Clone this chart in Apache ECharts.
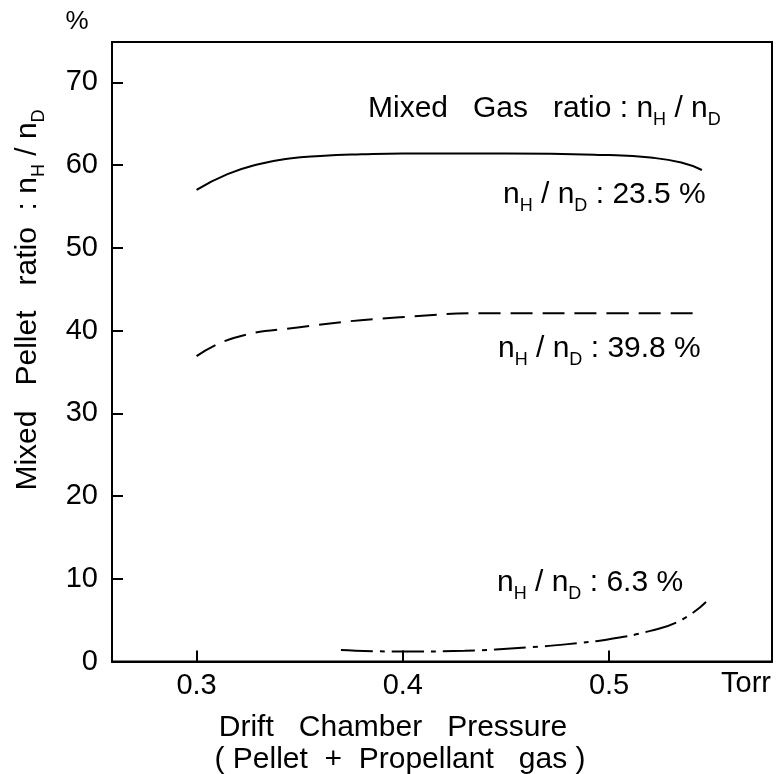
<!DOCTYPE html>
<html>
<head>
<meta charset="utf-8">
<script src="https://cdn.jsdelivr.net/npm/echarts@6/dist/echarts.min.js"></script>
<style>
	html,body{margin:0;padding:0;background:#fff;}
	#main{width:777px;height:774px;}
</style>
</head>
<body>
<div id="main"></div>
<script>
	// 刻度
	var xTicks = [0.3, 0.4, 0.5];
	var yTicks = [0, 10, 20, 30, 40, 50, 60, 70];
	// n_H/n_D : 23.5 %  实线
	var p235 = [0.300, 0.315, 0.330, 0.345, 0.360, 0.380, 0.400, 0.450, 0.500, 0.520, 0.535, 0.545];
	var r235 = [57.0, 58.9, 60.1, 60.8, 61.1, 61.3, 61.4, 61.4, 61.2, 60.9, 60.3, 59.4];
	// n_H/n_D : 39.8 %  虚线
	var p398 = [0.300, 0.318, 0.350, 0.3985, 0.447, 0.500, 0.545];
	var r398 = [36.9, 39.1, 40.4, 41.6, 42.1, 42.1, 42.1];
	// n_H/n_D : 6.3 %  点划线
	var p63 = [0.370, 0.400, 0.430, 0.460, 0.480, 0.500, 0.520, 0.535, 0.547];
	var r63 = [1.4, 1.2, 1.3, 1.7, 2.1, 2.7, 3.7, 5.0, 7.2];

	function pairs(xs, ys){
		var out = [];
		for(var i = 0 ; i < xs.length ; i++){
			out.push([xs[i], ys[i]]);
		}
		return out;
	}

	var FONT = '"Liberation Sans", Arial, sans-serif';
	var rich = {
		n: {fontSize: 30, fontFamily: FONT, color: '#000', lineHeight: 40},
		s: {fontSize: 18, fontFamily: FONT, color: '#000', padding: [22, 0, 0, 0]},
		t: {fontSize: 30, fontFamily: FONT, color: '#000', lineHeight: 40}
	};
	function ratioText(tail){
		return '{n|n}{s|H}{t| / }{n|n}{s|D}{t|' + tail + '}';
	}
	function label(x, y, text, align, rot){
		return {
			type: 'text',
			x: x,
			y: y,
			rotation: rot || 0,
			style: {
				text: text,
				rich: rich,
				fill: '#000',
				font: '30px ' + FONT,
				textAlign: align,
				textVerticalAlign: 'middle'
			}
		};
	}

	var myChart = echarts.init(document.getElementById('main'));
	var option = {
		backgroundColor: '#fff',
		animation: false,
		grid: {
			left: 112, right: 5, top: 42, bottom: 112.5,
			show: true, borderColor: '#000', borderWidth: 2
		},
		xAxis: {
			type: 'value',
			min: 0.259, max: 0.579,
			splitLine: {show: false},
			axisLine: {lineStyle: {color: '#000', width: 2}},
			axisTick: {inside: true, length: 11, customValues: xTicks, lineStyle: {color: '#000', width: 2}},
			axisLabel: {customValues: xTicks, margin: 10, fontSize: 29, fontFamily: FONT, color: '#000'}
		},
		yAxis: {
			type: 'value',
			min: 0, max: 74.87,
			splitLine: {show: false},
			axisLine: {lineStyle: {color: '#000', width: 2}},
			axisTick: {inside: true, length: 11, customValues: yTicks, lineStyle: {color: '#000', width: 2}},
			axisLabel: {customValues: yTicks, margin: 14, fontSize: 29, fontFamily: FONT, color: '#000'}
		},
		series: [{
			name: '23.5%',
			type: 'line',
			smooth: true,
			symbol: 'none',
			lineStyle: {color: '#000', width: 2},
			data: pairs(p235, r235)
		},{
			name: '39.8%',
			type: 'line',
			smooth: true,
			symbol: 'none',
			lineStyle: {color: '#000', width: 2, type: [22, 10]},
			data: pairs(p398, r398)
		},{
			name: '6.3%',
			type: 'line',
			smooth: true,
			symbol: 'none',
			lineStyle: {color: '#000', width: 2, type: [32, 7, 5, 7]},
			data: pairs(p63, r63)
		}],
		graphic: [
			label(368, 109, '{t|Mixed   Gas   ratio : }' + ratioText(''), 'left'),
			label(503, 195, ratioText(' : 23.5 %'), 'left'),
			label(498, 349, ratioText(' : 39.8 %'), 'left'),
			label(497, 583, ratioText(' : 6.3 %'), 'left'),
			label(28, 300, '{t|Mixed   Pellet   ratio  : }' + ratioText(''), 'center', Math.PI / 2),
			{type: 'text', x: 77, y: 22, style: {text: '%', fill: '#000', font: '26px ' + FONT, textAlign: 'center', textVerticalAlign: 'middle'}},
			{type: 'text', x: 746, y: 684, style: {text: 'Torr', fill: '#000', font: '29px ' + FONT, textAlign: 'center', textVerticalAlign: 'middle'}},
			{type: 'text', x: 393, y: 728, style: {text: 'Drift   Chamber   Pressure', fill: '#000', font: '30px ' + FONT, textAlign: 'center', textVerticalAlign: 'middle'}},
			{type: 'text', x: 400, y: 760, style: {text: '( Pellet  +  Propellant   gas )', fill: '#000', font: '30px ' + FONT, textAlign: 'center', textVerticalAlign: 'middle'}}
		]
	};
	myChart.setOption(option);
</script>
</body>
</html>
